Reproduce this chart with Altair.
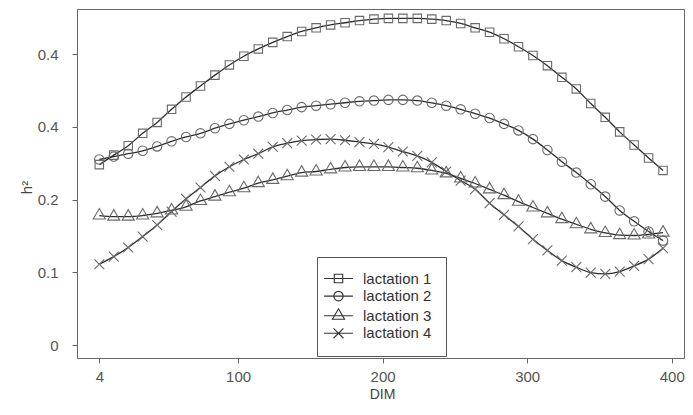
import altair as alt
import pandas as pd

# ---- data ----
days = [4, 14, 24, 34, 44, 54, 64, 74, 84, 94,
        104, 114, 124, 134, 144, 154, 164, 174, 184, 194,
        204, 214, 224, 234, 244, 254, 264, 274, 284, 294,
        304, 314, 324, 334, 344, 354, 364, 374, 384, 394]

lact1 = [0.248, 0.261, 0.274, 0.291, 0.306, 0.324, 0.341, 0.356, 0.371, 0.385,
         0.397, 0.407, 0.416, 0.424, 0.431, 0.436, 0.440, 0.443, 0.446, 0.448,
         0.449, 0.449, 0.449, 0.448, 0.446, 0.442, 0.436, 0.430, 0.421, 0.410,
         0.398, 0.384, 0.368, 0.352, 0.332, 0.313, 0.293, 0.275, 0.257, 0.240]

lact2 = [0.255, 0.259, 0.263, 0.267, 0.273, 0.280, 0.286, 0.291, 0.298, 0.304,
         0.309, 0.314, 0.319, 0.323, 0.327, 0.329, 0.331, 0.333, 0.335, 0.336,
         0.337, 0.337, 0.336, 0.333, 0.329, 0.324, 0.318, 0.312, 0.304, 0.295,
         0.283, 0.268, 0.252, 0.237, 0.221, 0.204, 0.185, 0.170, 0.156, 0.1435]

lact3 = [0.178, 0.1765, 0.1765, 0.178, 0.181, 0.185, 0.190, 0.198, 0.204, 0.210,
         0.2155, 0.2225, 0.227, 0.232, 0.237, 0.2385, 0.2415, 0.244, 0.2448, 0.2448,
         0.2448, 0.244, 0.243, 0.240, 0.236, 0.229, 0.222, 0.214, 0.206, 0.197,
         0.189, 0.181, 0.173, 0.166, 0.159, 0.154, 0.151, 0.1505, 0.152, 0.1545]

lact4 = [0.111, 0.1215, 0.134, 0.149, 0.165, 0.1834, 0.201, 0.2165, 0.2325, 0.245,
         0.255, 0.263, 0.2725, 0.2774, 0.281, 0.2825, 0.283, 0.2815, 0.279, 0.2765,
         0.272, 0.266, 0.260, 0.251, 0.2385, 0.226, 0.2142, 0.195, 0.179, 0.163,
         0.1455, 0.130, 0.116, 0.107, 0.0995, 0.0977, 0.1008, 0.1087, 0.118, 0.133]

names = ["lactation 1", "lactation 2", "lactation 3", "lactation 4"]

x_ticks = [4, 100, 200, 300, 400]
y_ticks = [0, 0.1, 0.2, 0.3, 0.4]

rows = []
for name, vals in zip(names, [lact1, lact2, lact3, lact4]):
    for d, v in zip(days, vals):
        rows.append({"DIM": d, "h2": v, "series": name})
df = pd.DataFrame(rows)

# marker shapes (open square, circle, triangle, x)
sq = "M-0.94,-0.94H0.94V0.94H-0.94Z"
ci = "M1.05,0A1.05,1.05,0,1,1,-1.05,0A1.05,1.05,0,1,1,1.05,0Z"
tr = "M0,-1.55L1.35,0.78L-1.35,0.78Z"
cr = "M-1.1,-1.1L1.1,1.1M-1.1,1.1L1.1,-1.1"
marker_paths = [sq, ci, tr, cr]
seg = "M-3.2,0H3.2"
legend_paths = [seg + p for p in marker_paths]

FONT = "Liberation Sans"

x_enc = alt.X(
    "DIM:Q",
    scale=alt.Scale(domain=[-11.43, 408.5], nice=False, zero=False),
    axis=alt.Axis(values=x_ticks, title="DIM", grid=False, domain=False,
                  tickColor="#666", tickSize=5, tickWidth=1,
                  labelPadding=6, labelFlush=False, labelFont=FONT,
                  labelFontSize=15, labelColor="#555",
                  titleFont=FONT, titleFontSize=14, titleFontWeight="normal",
                  titleColor="#444", titleX=305, titleY=40,
                  titleBaseline="alphabetic", titleAlign="center"),
)
y_enc = alt.Y(
    "h2:Q",
    scale=alt.Scale(domain=[-0.01787, 0.4619], nice=False, zero=False),
    axis=alt.Axis(values=y_ticks, title="h²", grid=False, domain=False,
                  tickColor="#666", tickSize=5, tickWidth=1,
                  labelPadding=14, labelFlush=False, labelFont=FONT,
                  labelFontSize=15, labelColor="#555",
                  labelExpr="datum.value == 0 ? '0' : (abs(datum.value - 0.3) < 1e-6 ? '0.4' : format(datum.value, '.1f'))",
                  titleFont=FONT, titleFontSize=15, titleFontWeight="normal",
                  titleColor="#444", titleX=-51, titleY=178, titleAngle=270,
                  titleBaseline="middle", titleAlign="center"),
)

base = alt.Chart(df)

lines = base.mark_line(color="#2e2e2e", strokeWidth=1.3, interpolate="monotone").encode(
    x=x_enc, y=y_enc, detail="series:N"
)

points = base.mark_point(filled=False, color="#6a6a6a", strokeWidth=1.1, size=81, opacity=1).encode(
    x=x_enc, y=y_enc,
    shape=alt.Shape("series:N", scale=alt.Scale(domain=names, range=marker_paths), legend=None),
)

legend_layer = base.transform_filter("false").mark_point(
    filled=False, color="#333", strokeWidth=1.1, size=81, opacity=1
).encode(
    x=x_enc, y=y_enc,
    shape=alt.Shape(
        "series:N",
        scale=alt.Scale(domain=names, range=legend_paths),
        legend=alt.Legend(orient="none", legendX=240, legendY=248, title=None,
                          padding=14, strokeColor="#555", fillColor="white",
                          labelFont=FONT, labelFontSize=15, labelColor="#333",
                          labelOffset=17, rowPadding=1.6, symbolSize=81,
                          symbolStrokeColor="#333", symbolStrokeWidth=1.1,
                          symbolFillColor="transparent"),
    ),
)

chart = alt.layer(lines, points, legend_layer).resolve_scale(shape="independent").properties(
    width=607, height=349,
    padding={"left": 69, "top": 1, "right": 1, "bottom": 44},
    autosize=alt.AutoSizeParams(type="none"),
).configure_view(stroke="#666", strokeWidth=1)

chart.save("out.html", embed_options={"renderer": "svg", "actions": False})
